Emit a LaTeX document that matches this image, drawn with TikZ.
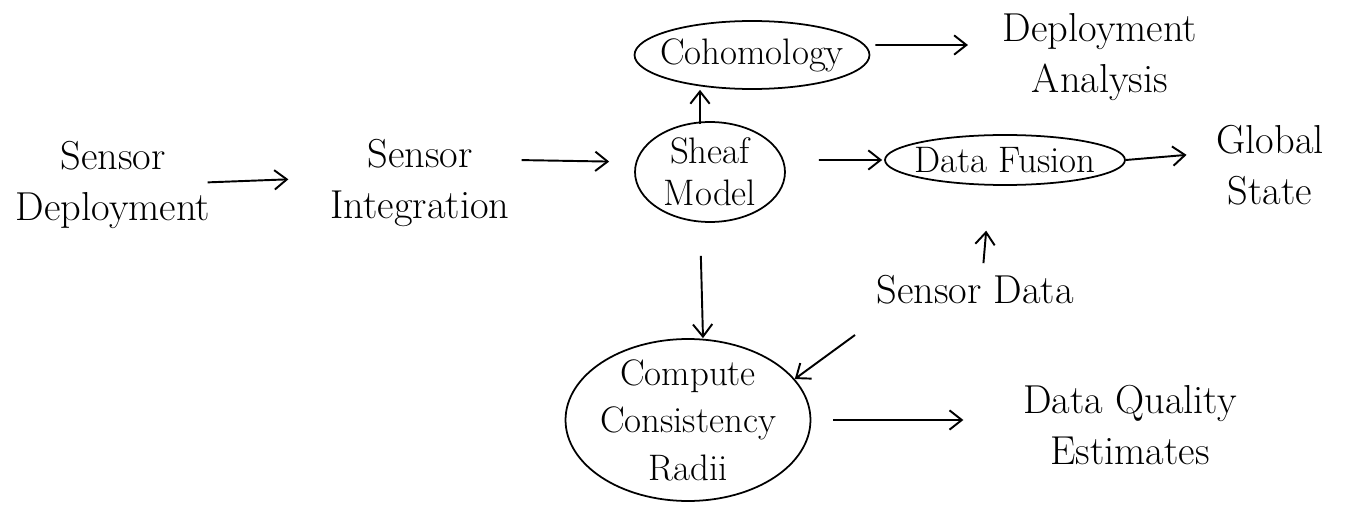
\documentclass[tikz,border=0pt]{standalone}
\usetikzlibrary{shapes.geometric,arrows.meta}
\begin{document}
\begin{tikzpicture}[x=0.02cm,y=-0.02cm,
  lbl/.style={align=center,font=\fontsize{23}{29}\selectfont,inner sep=4pt},
  ilbl/.style={align=center,font=\fontsize{21}{24}\selectfont,inner sep=0pt},
  ell/.style={draw,ellipse,line width=1pt,inner sep=0pt},
  arr/.style={line width=1.1pt,-{Straight Barb[length=7pt,width=11pt]}}]
\useasboundingbox (0,0) rectangle (1347,517);
\node[lbl] (sd) at (113,185) {Sensor\\Deployment};
\node[lbl] (si) at (420,183) {Sensor\\Integration};
\node[ell,minimum width=3cm,minimum height=2cm,label={[ilbl]center:Sheaf\\Model}] (sh) at (710,172) {};
\node[ell,minimum width=4.7cm,minimum height=1.36cm,label={[ilbl]center:Cohomology}] (coh) at (752,55) {};
\node[lbl] (da) at (1100,57) {Deployment\\Analysis};
\node[ell,minimum width=4.8cm,minimum height=1cm,label={[ilbl]center:Data Fusion}] (df) at (1005,160) {};
\node[lbl] (gs) at (1270,165) {Global\\State};
\node[lbl] (sdata) at (975,290) {Sensor Data};
\node[ell,minimum width=4.9cm,minimum height=3.24cm,label={[ilbl,font=\fontsize{21}{27}\selectfont]center:Compute\\Consistency\\Radii}] (cm) at (688,420) {};
\node[lbl] (dq) at (1130,425) {Data Quality\\Estimates};
\coordinate (sdtail) at (855,335);

\draw[arr,shorten <=-0.2cm,shorten >=0.7cm] ([yshift=0.06cm]sd.east) -- ([yshift=0.1cm]si.west);
\draw[arr,shorten <=0.1cm,shorten >=0.5cm] ([yshift=0.46cm]si.east) -- ([yshift=0.2cm]sh.west);
\draw[arr] ([xshift=-0.2cm,yshift=-0.06cm]sh.north) -- ([xshift=-0.2cm]sh.north |- coh.south);
\draw[arr,shorten <=0.1cm,shorten >=0.55cm] ([yshift=0.2cm]coh.east) -- ([yshift=0.24cm]da.west);
\draw[arr,shorten <=0.66cm,shorten >=0.04cm] ([yshift=0.24cm]sh.east) -- (df.west);
\draw[arr,shorten >=0.45cm] (df.east) -- ([yshift=0.24cm]gs.west);
\draw[arr,shorten <=0.66cm] ([xshift=-0.2cm]sh.south) -- ([xshift=0.3cm]cm.north);
\draw[arr,shorten <=0.1cm,shorten >=0.9cm] ([xshift=0.16cm]sdata.north) -- ([xshift=-0.3cm]df.south);
\draw[arr] (sdtail) -- (cm.21);
\draw[arr,shorten <=0.44cm,shorten >=1.05cm] (cm.east) -- (dq.west |- cm.east);
\end{tikzpicture}
\end{document}
